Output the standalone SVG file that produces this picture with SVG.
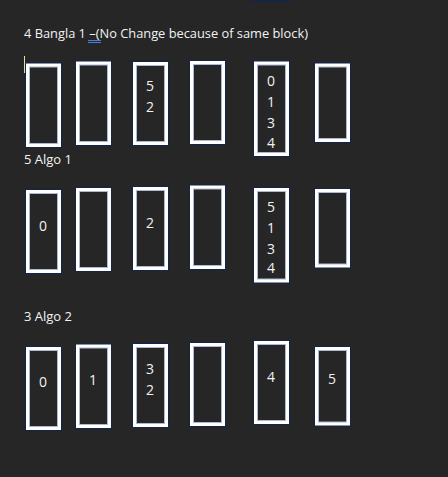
<svg xmlns="http://www.w3.org/2000/svg" width="448" height="477" viewBox="0 0 448 477">
<style>
.o{fill:#ffffff;stroke:#10244c;stroke-width:1}
.i{fill:#262626;stroke:#aeb9d2;stroke-width:1}
.h{font-family:"Open Sans","Liberation Sans",sans-serif;font-size:13px;fill:#f2f2f2}
.d{font-family:"Open Sans","Liberation Sans",sans-serif;font-size:14px;fill:#f2f2f2;text-anchor:middle}
</style>
<rect width="448" height="477" fill="#262626"/>
<rect x="252" y="0" width="39" height="1.5" fill="#10244c"/>
<text class="h" x="24" y="38" textLength="284" lengthAdjust="spacingAndGlyphs">4 Bangla 1 –(No Change because of same block)</text>
<line x1="88" y1="40.5" x2="101" y2="40.5" stroke="#4a7fe0" stroke-width="1"/>
<line x1="88" y1="42.5" x2="101" y2="42.5" stroke="#4a7fe0" stroke-width="1"/>
<line x1="24.5" y1="56" x2="24.5" y2="73" stroke="#e8d9a8" stroke-width="1"/>
<g id="r1b1"><rect class="o" x="25.5" y="63" width="36" height="84.5"/><rect class="i" x="29.5" y="67" width="28" height="76.5"/></g>
<g id="r1b2"><rect class="o" x="75.5" y="61" width="36" height="84.5"/><rect class="i" x="79.5" y="65" width="28" height="76.5"/></g>
<g id="r1b3"><rect class="o" x="132.5" y="61.5" width="36" height="84"/><rect class="i" x="136.5" y="65.5" width="28" height="76"/><text class="d" x="150" y="91">5</text><text class="d" x="150" y="112">2</text></g>
<g id="r1b4"><rect class="o" x="189.5" y="60.5" width="36" height="84"/><rect class="i" x="193.5" y="64.5" width="28" height="76"/></g>
<g id="r1b5"><rect class="o" x="253.5" y="61" width="36" height="95.5"/><rect class="i" x="257.5" y="65" width="28" height="87.5"/><text class="d" x="271" y="86">0</text><text class="d" x="271" y="107">1</text><text class="d" x="271" y="128">3</text><text class="d" x="271" y="148">4</text></g>
<g id="r1b6"><rect class="o" x="314.5" y="63" width="36" height="79.5"/><rect class="i" x="318.5" y="67" width="28" height="71.5"/></g>
<text class="h" x="24" y="164">5 Algo 1</text>
<g id="r2b1"><rect class="o" x="25.5" y="189.5" width="36" height="84"/><rect class="i" x="29.5" y="193.5" width="28" height="76"/><text class="d" x="43" y="230.5">0</text></g>
<g id="r2b2"><rect class="o" x="75.5" y="187.5" width="36" height="84"/><rect class="i" x="79.5" y="191.5" width="28" height="76"/></g>
<g id="r2b3"><rect class="o" x="132.5" y="186.5" width="36" height="84"/><rect class="i" x="136.5" y="190.5" width="28" height="76"/><text class="d" x="150" y="228">2</text></g>
<g id="r2b4"><rect class="o" x="189.5" y="185" width="36" height="84.5"/><rect class="i" x="193.5" y="189" width="28" height="76.5"/></g>
<g id="r2b5"><rect class="o" x="253.5" y="187.5" width="36" height="95.5"/><rect class="i" x="257.5" y="191.5" width="28" height="87.5"/><text class="d" x="271" y="211.5">5</text><text class="d" x="271" y="232.5">1</text><text class="d" x="271" y="253.5">3</text><text class="d" x="271" y="273">4</text></g>
<g id="r2b6"><rect class="o" x="314.5" y="188.5" width="36" height="79.5"/><rect class="i" x="318.5" y="192.5" width="28" height="71.5"/></g>
<text class="h" x="24" y="321">3 Algo 2</text>
<g id="r3b1"><rect class="o" x="25.5" y="346.5" width="36" height="84"/><rect class="i" x="29.5" y="350.5" width="28" height="76"/><text class="d" x="43" y="387">0</text></g>
<g id="r3b2"><rect class="o" x="75.5" y="344" width="36" height="84.5"/><rect class="i" x="79.5" y="348" width="28" height="76.5"/><text class="d" x="93" y="385">1</text></g>
<g id="r3b3"><rect class="o" x="132.5" y="343.5" width="36" height="84"/><rect class="i" x="136.5" y="347.5" width="28" height="76"/><text class="d" x="150" y="374">3</text><text class="d" x="150" y="395">2</text></g>
<g id="r3b4"><rect class="o" x="189.5" y="342.5" width="36" height="84"/><rect class="i" x="193.5" y="346.5" width="28" height="76"/></g>
<g id="r3b5"><rect class="o" x="253.5" y="340.5" width="36" height="84"/><rect class="i" x="257.5" y="344.5" width="28" height="76"/><text class="d" x="271" y="381.5">4</text></g>
<g id="r3b6"><rect class="o" x="314.5" y="346.5" width="36" height="79.5"/><rect class="i" x="318.5" y="350.5" width="28" height="71.5"/><text class="d" x="332" y="384">5</text></g>
</svg>
